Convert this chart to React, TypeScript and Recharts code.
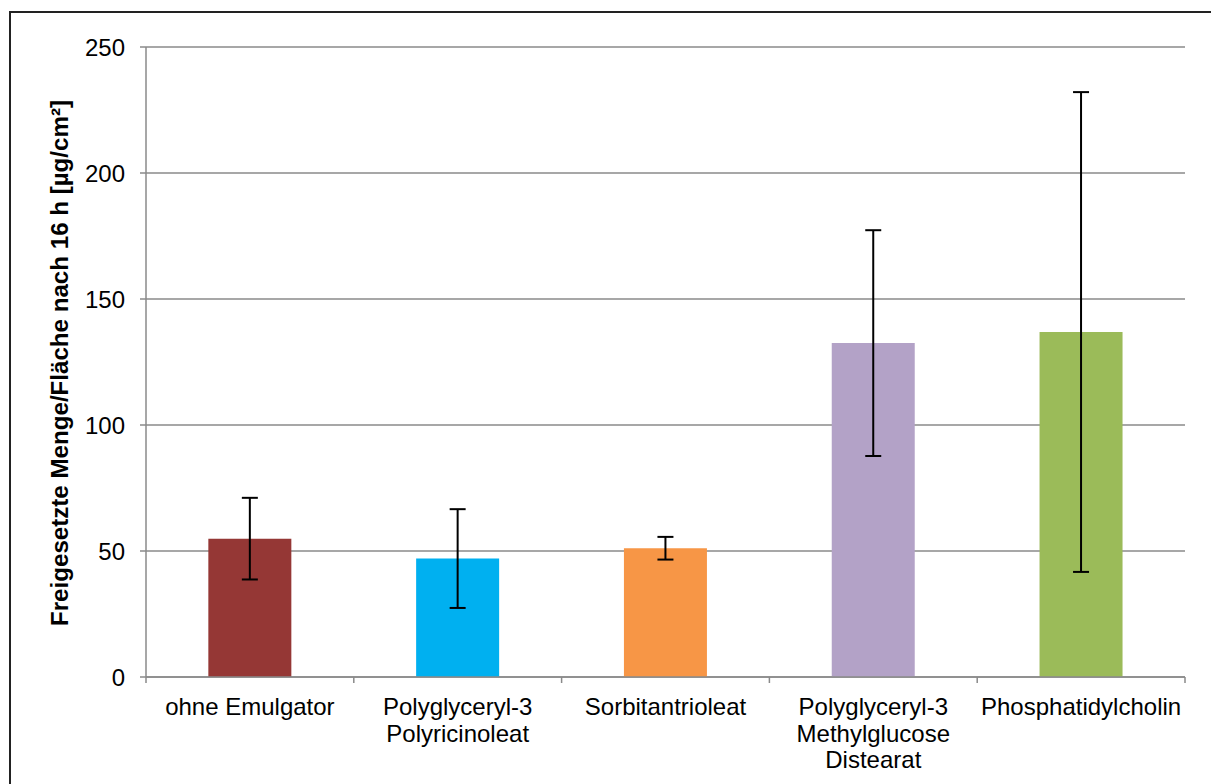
import { BarChart, Bar, XAxis, YAxis, CartesianGrid, ErrorBar, Cell, Label } from "recharts";

const categories = [
  "ohne Emulgator",
  "Polyglyceryl-3\nPolyricinoleat",
  "Sorbitantrioleat",
  "Polyglyceryl-3\nMethylglucose\nDistearat",
  "Phosphatidylcholin",
];
const means = [54.9, 47.0, 51.1, 132.5, 136.9];
const sd = [16.2, 19.6, 4.5, 44.8, 95.2];
const barColors = ["#953735", "#00B0F0", "#F79646", "#B3A2C7", "#9BBB59"];
const yTicks = [0, 50, 100, 150, 200, 250];
const yTitle = "Freigesetzte Menge/Fläche nach 16 h [µg/cm²]";

const data = categories.map((name, i) => ({ name, value: means[i], sd: sd[i] }));

const FONT = "'Liberation Sans', Arial, sans-serif";
const AXIS_GREY = "#8a8a8a";

function CategoryTick(props: any) {
  const { x, y, payload, index } = props;
  const half = payload?.offset ?? 104;
  const lines = String(payload.value).split("\n");
  return (
    <g>
      <line x1={x - half} y1={y} x2={x - half} y2={y + 6} stroke={AXIS_GREY} strokeWidth={1.5} />
      {index === categories.length - 1 && (
        <line x1={x + half} y1={y} x2={x + half} y2={y + 6} stroke={AXIS_GREY} strokeWidth={1.5} />
      )}
      <text x={x} y={y + 38} textAnchor="middle" fontSize={24} fill="#000" fontFamily={FONT}>
        {lines.map((l, i) => (
          <tspan key={i} x={x} dy={i === 0 ? 0 : 26.5}>
            {l}
          </tspan>
        ))}
      </text>
    </g>
  );
}

function YTitle() {
  return (
    <text
      x={68}
      y={363}
      transform="rotate(-90 68 363)"
      textAnchor="middle"
      fontSize={24}
      fontWeight="bold"
      fill="#000"
      fontFamily={FONT}
      textLength={526}
      lengthAdjust="spacingAndGlyphs"
    >
      {yTitle}
    </text>
  );
}

export default function App() {
  return (
    <div style={{ position: "fixed", left: 0, top: 0, width: 1211, height: 784, overflow: "hidden", background: "#fff" }}>
      <div
        style={{
          position: "absolute",
          left: 9,
          top: 11,
          width: 1300,
          height: 900,
          border: "2px solid #222",
        }}
      />
      <div style={{ position: "absolute", left: 0, top: 0 }}>
        <BarChart
          width={1211}
          height={784}
          data={data}
          margin={{ top: 47, right: 26, bottom: 7, left: 0 }}
          barCategoryGap="30%"
        >
          <CartesianGrid vertical={false} stroke={AXIS_GREY} strokeWidth={1.5} />
          <XAxis
            dataKey="name"
            height={100}
            interval={0}
            tickSize={0}
            tickLine={false}
            tickMargin={0}
            axisLine={{ stroke: AXIS_GREY, strokeWidth: 1.5 }}
            tick={<CategoryTick />}
          />
          <YAxis
            width={146}
            domain={[0, 250]}
            ticks={yTicks}
            interval={0}
            tickSize={6}
            tickMargin={15}
            axisLine={{ stroke: AXIS_GREY, strokeWidth: 1.5 }}
            tickLine={{ stroke: AXIS_GREY, strokeWidth: 1.5 }}
            tick={{ fontSize: 24, fill: "#000", fontFamily: FONT }}
          >
            <Label content={<YTitle />} />
          </YAxis>
          <Bar dataKey="value" isAnimationActive={false}>
            {data.map((d, i) => (
              <Cell key={d.name} fill={barColors[i]} />
            ))}
            <ErrorBar dataKey="sd" width={8} stroke="#000" strokeWidth={2} direction="y" />
          </Bar>
        </BarChart>
      </div>
    </div>
  );
}
